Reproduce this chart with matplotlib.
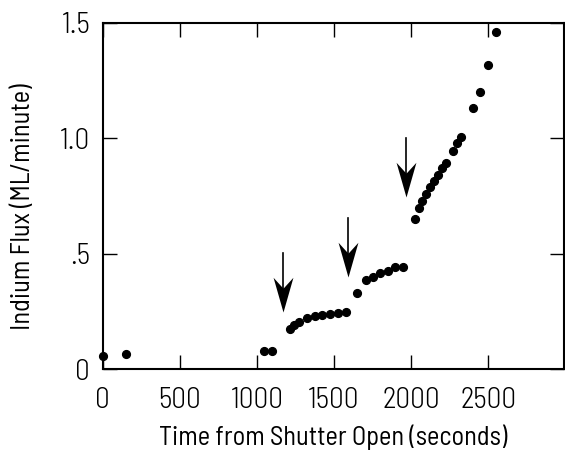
import numpy as np
import matplotlib
matplotlib.use('Agg')
import matplotlib.pyplot as plt
from matplotlib.path import Path

plt.rcParams['font.family'] = ['Barlow Semi Condensed', 'DejaVu Sans']
plt.rcParams['font.weight'] = 300

# indium flux vs time
time_s = [0, 151, 1043, 1097, 1216, 1240, 1272, 1324, 1374, 1423, 1473, 1523, 1575,
          1646, 1704, 1750, 1797, 1847, 1896, 1946,
          2022, 2048, 2072, 2097, 2123, 2147, 2171, 2197, 2223, 2272, 2296, 2322,
          2398, 2447, 2495, 2547]
flux = [0.058, 0.066, 0.081, 0.081, 0.174, 0.190, 0.205, 0.221, 0.231, 0.236, 0.241, 0.245, 0.249,
        0.329, 0.385, 0.401, 0.415, 0.427, 0.441, 0.444,
        0.649, 0.697, 0.727, 0.759, 0.788, 0.815, 0.841, 0.870, 0.893, 0.946, 0.978, 1.007,
        1.131, 1.200, 1.316, 1.460]

# arrows: x, shaft top, tip
arrow_x = [1169, 1588, 1968]
arrow_top = [0.502, 0.654, 1.003]
arrow_tip = [0.249, 0.398, 0.747]

xticks = [0, 500, 1000, 1500, 2000, 2500]
yticks = [0, 0.5, 1.0, 1.5]
ytick_labels = ['0', '.5', '1.0', '1.5']

fig = plt.figure(figsize=(5.65, 4.58), dpi=100)
ax = fig.add_axes([0.1818, 0.1937, 0.8162, 0.7567])

ax.plot(time_s, flux, 'o', color='black', markersize=5.6, clip_on=False, zorder=3)

# notched arrow head, tip at origin
head = Path([(0, 0), (-0.5, 1.75), (0, 1.2), (0.5, 1.75), (0, 0)],
            [Path.MOVETO, Path.LINETO, Path.LINETO, Path.LINETO, Path.CLOSEPOLY])
for x, y0, y1 in zip(arrow_x, arrow_top, arrow_tip):
    ax.plot([x, x], [y0, y1 + 0.08], color='black', lw=1.2)
    ax.plot([x], [y1], marker=head, markersize=50, color='black', markeredgewidth=0)

ax.set_xlim(0, 2990)
ax.set_ylim(0, 1.5)
ax.set_xticks(xticks)
ax.set_yticks(yticks)
ax.set_yticklabels(ytick_labels)
ax.tick_params(direction='in', length=10, width=1, top=True, right=True, labelsize=21)
ax.tick_params(axis='x', pad=13)
ax.tick_params(axis='y', pad=9)
for s in ax.spines.values():
    s.set_linewidth(1.5)

ax.set_xlabel('Time from Shutter Open (seconds)', fontsize=19)
ax.set_ylabel('Indium Flux (ML/minute)', fontsize=19)
ax.xaxis.set_label_coords(0.5, -0.158)
ax.yaxis.set_label_coords(-0.147, 0.47)

fig.savefig('out.png', dpi=100)
